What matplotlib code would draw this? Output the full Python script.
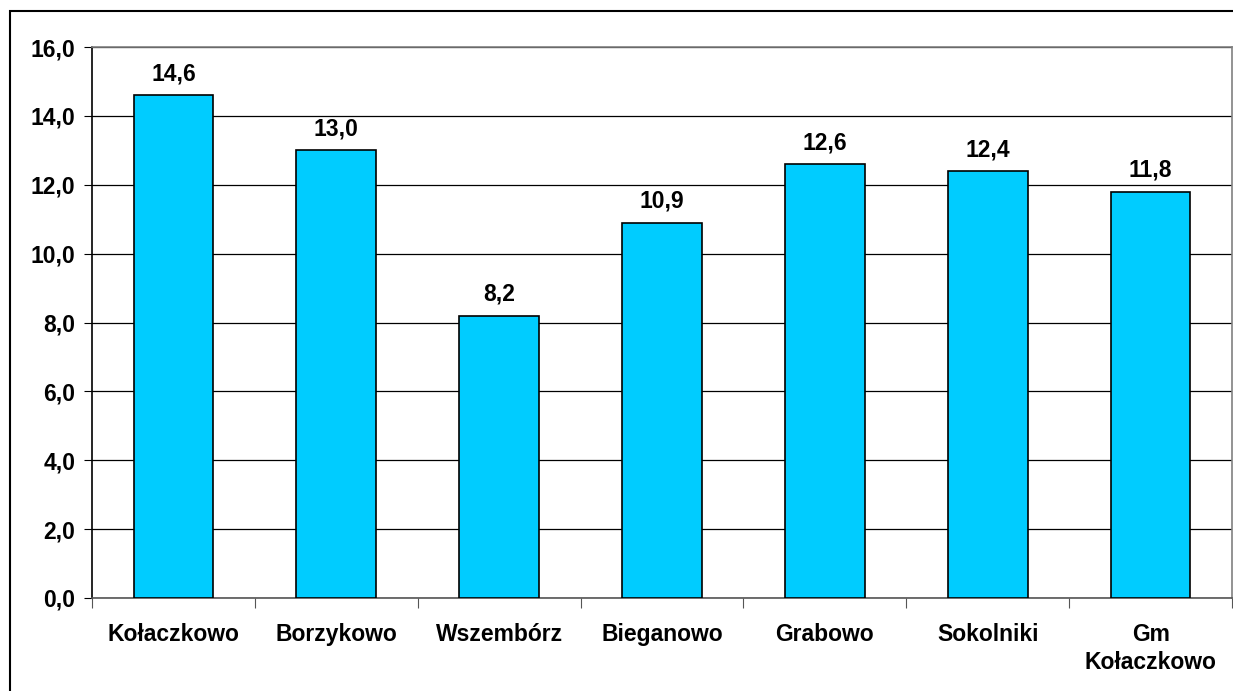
import matplotlib.pyplot as plt
from matplotlib.patches import Rectangle
from matplotlib.ticker import MultipleLocator, FuncFormatter

# -----------------------------
# Data
# -----------------------------
categories = ["Kołaczkowo", "Borzykowo", "Wszembórz", "Bieganowo",
              "Grabowo", "Sokolniki", "Gm\nKołaczkowo"]
values = [14.6, 13.0, 8.2, 10.9, 12.6, 12.4, 11.8]

plt.rcParams["font.family"] = ["Liberation Sans", "DejaVu Sans"]
plt.rcParams["font.weight"] = "bold"

W, H = 1233, 691
fig = plt.figure(figsize=(W / 100, H / 100), dpi=100)

# outer chart frame (runs off the right and bottom edge)
fig.patches.append(Rectangle((10 / W, -0.05), 1.2, 1 - 11 / H + 0.05,
                             transform=fig.transFigure, fill=False,
                             edgecolor="black", linewidth=1.5))

ax = fig.add_axes([92 / W, 1 - 598 / H, (1232 - 92) / W, (598 - 47) / H])

x = list(range(len(categories)))
ax.bar(x, values, width=0.49, color="#00ccff", edgecolor="black",
       linewidth=1.2, zorder=3)

for xi, v in zip(x, values):
    ax.annotate(f"{v:.1f}".replace(".", ","), (xi, v), xytext=(0, 7),
                textcoords="offset points", ha="center", va="bottom",
                fontsize=16.5, fontweight="bold", zorder=4)

ax.set_xlim(-0.5, len(categories) - 0.5)
ax.set_ylim(0, 16)
ax.yaxis.set_major_locator(MultipleLocator(2))
ax.yaxis.set_major_formatter(FuncFormatter(lambda v, p: f"{v:.1f}".replace(".", ",")))
ax.grid(axis="y", color="black", linewidth=0.9, zorder=0)

ax.set_xticks([i + 0.5 for i in range(-1, len(categories))])
ax.set_xticklabels([])
ax.set_xticks(x, minor=True)
ax.set_xticklabels(categories, minor=True, fontsize=16.5, fontweight="bold",
                   linespacing=1.3)
ax.tick_params(axis="x", which="minor", length=0, pad=18)
ax.tick_params(axis="x", which="major", length=7, direction="out",
               color="#555555")
ax.tick_params(axis="y", length=6, direction="out", labelsize=16.5, pad=6)
for lab in ax.get_yticklabels():
    lab.set_fontweight("bold")

ax.spines["left"].set_color("black")
ax.spines["bottom"].set_color("#555555")
ax.spines["top"].set_color("#808080")
ax.spines["right"].set_color("#808080")
for s in ax.spines.values():
    s.set_linewidth(1.2)

fig.savefig("out.png", dpi=100)
